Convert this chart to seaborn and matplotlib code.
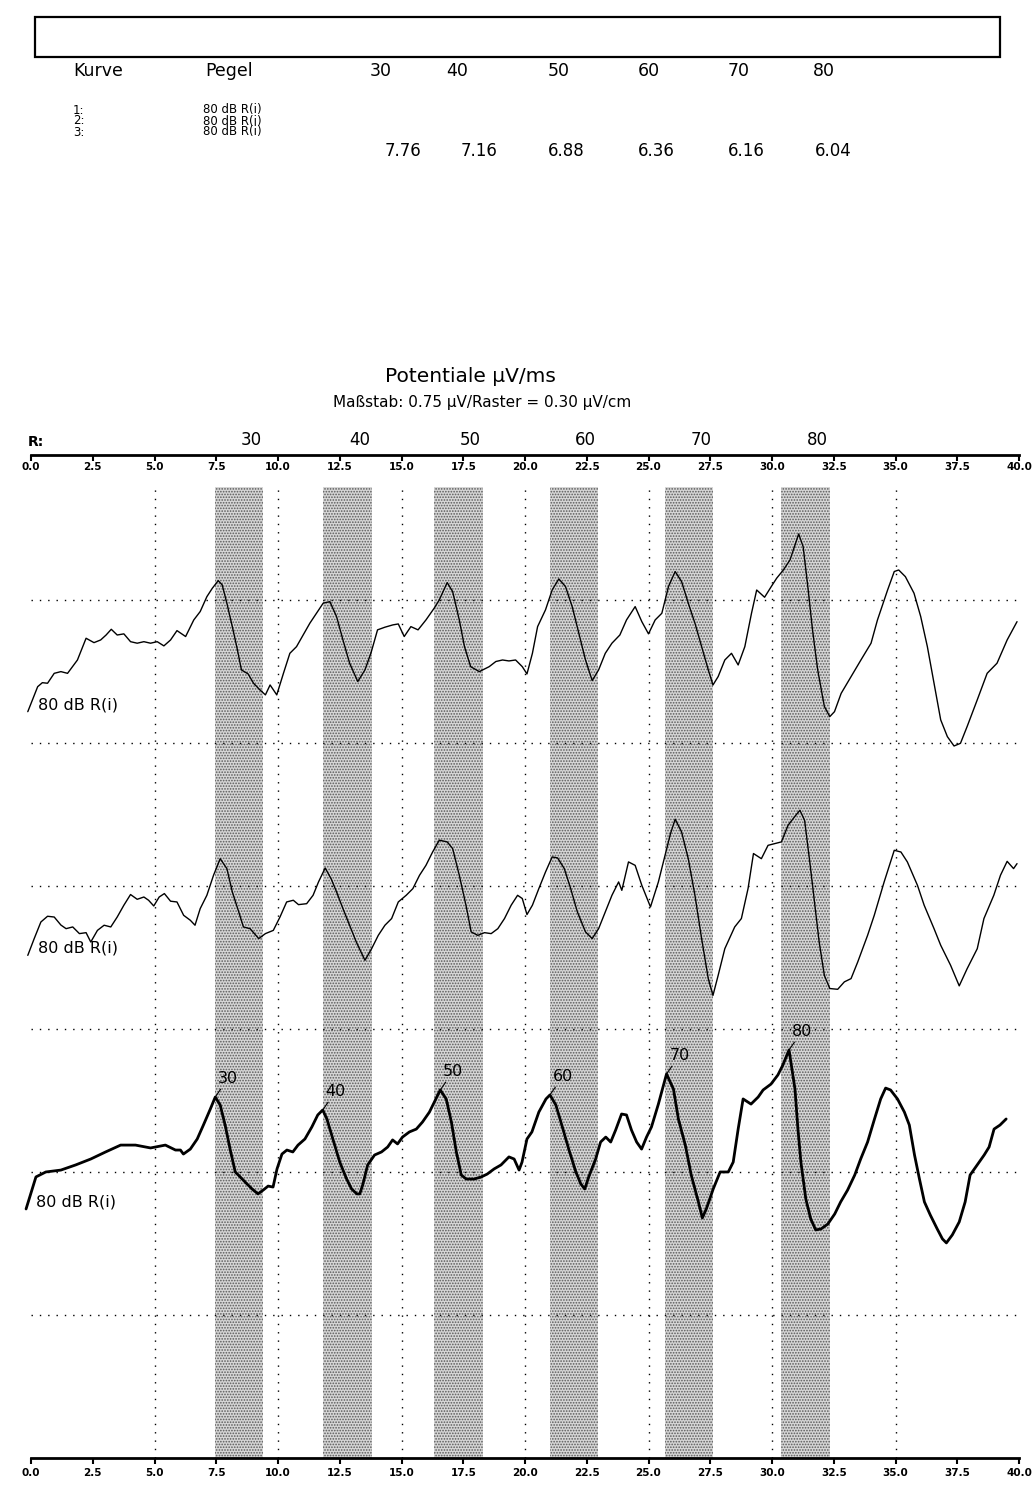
import numpy as np
import matplotlib
matplotlib.use("Agg")
import matplotlib.pyplot as plt
from matplotlib.patches import Rectangle
import seaborn as sns

sns.set_theme(style="white")
plt.rcParams['font.family'] = ['DejaVu Sans']
plt.rcParams['hatch.linewidth'] = 0.8
plt.rcParams['text.color'] = 'black'
plt.rcParams['xtick.color'] = 'black'
plt.rcParams['axes.labelcolor'] = 'black'

# ---------------- header table ----------------
table_head = ["Kurve", "Pegel", "30", "40", "50", "60", "70", "80"]
curve_ids = ["1:", "2:", "3:"]
curve_levels = ["80 dB R(i)", "80 dB R(i)", "80 dB R(i)"]
curve3_values = ["7.76", "7.16", "6.88", "6.36", "6.16", "6.04"]

# ---------------- analysis windows (ms) ----------------
window_names = ["30", "40", "50", "60", "70", "80"]
window_start = [7.45, 11.83, 16.32, 21.00, 25.67, 30.38]
window_end = [9.41, 13.79, 18.28, 22.96, 27.63, 32.34]

# ---------------- axis ticks ----------------
x_ticks = [0.0, 2.5, 5.0, 7.5, 10.0, 12.5, 15.0, 17.5, 20.0, 22.5, 25.0,
           27.5, 30.0, 32.5, 35.0, 37.5, 40.0]
x_grid = [5, 10, 15, 20, 25, 30, 35]
raster_uv = [0.75, 1.50, 2.25, 3.00, 3.75, 4.50]   # 0.75 µV per raster

# ---------------- traces (ms, µV relative to own raster line) ----------------
t1_ms = [-0.13, 0.27, 0.46, 0.67, 0.94, 1.21, 1.48, 1.88, 2.23, 2.55,
         2.82, 3.04, 3.25, 3.49, 3.76, 4.03, 4.30, 4.57, 4.84, 5.11,
         5.38, 5.65, 5.91, 6.26, 6.59, 6.85, 7.12, 7.34, 7.58, 7.74,
         7.93, 8.15, 8.33, 8.52, 8.79, 9.01, 9.27, 9.49, 9.68, 9.95,
         10.22, 10.48, 10.75, 11.02, 11.29, 11.56, 11.83, 12.10, 12.37, 12.63,
         12.90, 13.23, 13.52, 13.76, 14.03, 14.33, 14.65, 14.87, 15.11, 15.38,
         15.67, 15.99, 16.32, 16.53, 16.85, 17.07, 17.34, 17.55, 17.80, 18.15,
         18.55, 18.82, 19.09, 19.35, 19.62, 19.89, 20.08, 20.30, 20.51, 20.83,
         21.10, 21.37, 21.64, 21.91, 22.18, 22.45, 22.72, 22.98, 23.25, 23.52,
         23.84, 24.11, 24.46, 24.73, 25.00, 25.27, 25.54, 25.81, 26.08, 26.34,
         26.61, 26.88, 27.15, 27.42, 27.61, 27.82, 28.09, 28.36, 28.63, 28.90,
         29.17, 29.38, 29.70, 29.97, 30.19, 30.46, 30.73, 30.91, 31.08, 31.26,
         31.45, 31.64, 31.85, 32.12, 32.34, 32.53, 32.80, 33.20, 33.60, 34.01,
         34.27, 34.68, 34.95, 35.13, 35.40, 35.75, 36.02, 36.29, 36.56, 36.83,
         37.10, 37.37, 37.63, 37.90, 38.31, 38.71, 39.11, 39.52, 39.92]
t1_uv = [0.164, 0.295, 0.316, 0.313, 0.365, 0.374, 0.365, 0.435, 0.549, 0.526,
         0.540, 0.566, 0.596, 0.566, 0.572, 0.531, 0.523, 0.531, 0.523, 0.531,
         0.509, 0.540, 0.589, 0.558, 0.645, 0.689, 0.767, 0.811, 0.851, 0.829,
         0.733, 0.610, 0.505, 0.383, 0.362, 0.313, 0.278, 0.252, 0.304, 0.252,
         0.365, 0.470, 0.505, 0.566, 0.628, 0.680, 0.733, 0.741, 0.663, 0.540,
         0.418, 0.322, 0.383, 0.470, 0.593, 0.607, 0.619, 0.624, 0.558, 0.610,
         0.593, 0.645, 0.706, 0.750, 0.841, 0.794, 0.645, 0.505, 0.400, 0.374,
         0.400, 0.427, 0.435, 0.430, 0.435, 0.400, 0.362, 0.470, 0.610, 0.698,
         0.802, 0.860, 0.820, 0.715, 0.575, 0.435, 0.327, 0.383, 0.470, 0.523,
         0.566, 0.645, 0.715, 0.636, 0.572, 0.645, 0.680, 0.820, 0.899, 0.846,
         0.733, 0.628, 0.505, 0.383, 0.304, 0.348, 0.435, 0.470, 0.409, 0.505,
         0.680, 0.802, 0.764, 0.820, 0.864, 0.907, 0.960, 1.030, 1.096, 1.030,
         0.820, 0.593, 0.383, 0.191, 0.138, 0.164, 0.260, 0.348, 0.435, 0.523,
         0.645, 0.802, 0.899, 0.907, 0.872, 0.785, 0.663, 0.505, 0.313, 0.121,
         0.033, -0.016, -0.002, 0.086, 0.226, 0.365, 0.418, 0.540, 0.636]

t2_ms = [-0.13, 0.13, 0.40, 0.67, 0.94, 1.21, 1.42, 1.69, 1.96, 2.23,
         2.42, 2.69, 2.96, 3.23, 3.49, 3.76, 4.03, 4.30, 4.57, 4.76,
         4.97, 5.19, 5.40, 5.65, 5.91, 6.18, 6.45, 6.64, 6.85, 7.12,
         7.39, 7.66, 7.93, 8.15, 8.41, 8.60, 8.87, 9.22, 9.49, 9.81,
         10.08, 10.35, 10.62, 10.83, 11.16, 11.42, 11.64, 11.91, 12.15, 12.37,
         12.63, 12.90, 13.17, 13.52, 13.79, 14.06, 14.33, 14.60, 14.87, 15.19,
         15.46, 15.73, 15.99, 16.26, 16.53, 16.85, 17.07, 17.34, 17.61, 17.82,
         18.09, 18.36, 18.63, 18.90, 19.17, 19.44, 19.70, 19.89, 20.08, 20.30,
         20.56, 20.83, 21.10, 21.32, 21.59, 21.85, 22.12, 22.45, 22.72, 22.98,
         23.25, 23.52, 23.79, 23.92, 24.19, 24.46, 24.73, 25.08, 25.40, 25.67,
         25.89, 26.08, 26.34, 26.61, 26.88, 27.15, 27.42, 27.61, 27.82, 28.09,
         28.49, 28.76, 29.03, 29.25, 29.57, 29.84, 30.11, 30.38, 30.65, 30.91,
         31.13, 31.32, 31.53, 31.72, 31.91, 32.12, 32.34, 32.66, 32.93, 33.20,
         33.47, 33.87, 34.14, 34.54, 34.95, 35.22, 35.48, 35.89, 36.16, 36.56,
         36.83, 37.23, 37.58, 37.90, 38.31, 38.58, 38.98, 39.25, 39.52, 39.78,
         39.92]
t2_uv = [0.386, 0.474, 0.561, 0.591, 0.587, 0.545, 0.526, 0.535, 0.500, 0.505,
         0.456, 0.517, 0.544, 0.535, 0.587, 0.649, 0.705, 0.680, 0.692, 0.675,
         0.645, 0.692, 0.710, 0.670, 0.666, 0.596, 0.570, 0.544, 0.631, 0.701,
         0.806, 0.893, 0.841, 0.719, 0.614, 0.535, 0.526, 0.474, 0.500, 0.517,
         0.587, 0.666, 0.675, 0.652, 0.657, 0.701, 0.771, 0.844, 0.788, 0.719,
         0.631, 0.544, 0.456, 0.360, 0.421, 0.491, 0.544, 0.579, 0.666, 0.701,
         0.736, 0.806, 0.858, 0.928, 0.990, 0.981, 0.946, 0.806, 0.649, 0.509,
         0.491, 0.505, 0.500, 0.526, 0.579, 0.649, 0.701, 0.684, 0.600, 0.649,
         0.736, 0.823, 0.902, 0.897, 0.841, 0.736, 0.614, 0.509, 0.474, 0.526,
         0.614, 0.701, 0.771, 0.727, 0.876, 0.858, 0.753, 0.640, 0.771, 0.911,
         1.024, 1.100, 1.033, 0.893, 0.701, 0.474, 0.264, 0.176, 0.281, 0.421,
         0.535, 0.579, 0.736, 0.920, 0.893, 0.963, 0.972, 0.981, 1.068, 1.112,
         1.147, 1.094, 0.876, 0.666, 0.456, 0.281, 0.212, 0.208, 0.247, 0.264,
         0.351, 0.491, 0.596, 0.771, 0.937, 0.928, 0.876, 0.753, 0.649, 0.526,
         0.439, 0.334, 0.226, 0.316, 0.421, 0.579, 0.701, 0.806, 0.879, 0.841,
         0.867]

t3_ms = [-0.20, 0.20, 0.60, 1.21, 1.81, 2.42, 3.02, 3.63, 4.23, 4.84, 5.44, 5.85,
         6.05, 6.17, 6.45, 6.73, 6.98, 7.26, 7.46, 7.66, 7.86, 8.06,
         8.27, 8.47, 8.67, 8.95, 9.19, 9.40, 9.60, 9.80, 9.96, 10.16,
         10.36, 10.60, 10.81, 11.09, 11.37, 11.61, 11.81, 11.98, 12.22, 12.50,
         12.78, 12.98, 13.19, 13.31, 13.43, 13.63, 13.91, 14.19, 14.44, 14.64,
         14.84, 15.04, 15.32, 15.60, 15.85, 16.13, 16.37, 16.57, 16.81, 17.02,
         17.22, 17.42, 17.62, 17.94, 18.23, 18.47, 18.75, 19.03, 19.35, 19.56,
         19.76, 19.88, 20.08, 20.28, 20.56, 20.85, 21.01, 21.25, 21.49, 21.77,
         22.06, 22.26, 22.42, 22.58, 22.86, 23.06, 23.27, 23.47, 23.67, 23.91,
         24.11, 24.31, 24.52, 24.72, 24.92, 25.12, 25.40, 25.73, 26.01, 26.21,
         26.49, 26.73, 27.02, 27.18, 27.34, 27.62, 27.90, 28.23, 28.43, 28.63,
         28.83, 29.15, 29.44, 29.64, 29.96, 30.24, 30.44, 30.69, 30.93, 31.05,
         31.17, 31.37, 31.57, 31.77, 31.98, 32.26, 32.54, 32.78, 33.06, 33.35,
         33.59, 33.87, 34.15, 34.40, 34.60, 34.80, 35.08, 35.36, 35.56, 35.77,
         35.97, 36.17, 36.41, 36.69, 36.90, 37.06, 37.30, 37.58, 37.82, 38.02,
         38.31, 38.59, 38.79, 38.99, 39.23, 39.48]
t3_uv = [0.556, 0.724, 0.750, 0.760, 0.787, 0.818, 0.855, 0.891, 0.891, 0.876, 0.891, 0.865,
         0.865, 0.844, 0.870, 0.923, 0.996, 1.080, 1.143, 1.101, 0.996, 0.870,
         0.750, 0.724, 0.697, 0.661, 0.635, 0.655, 0.676, 0.671, 0.766, 0.844,
         0.865, 0.855, 0.891, 0.923, 0.986, 1.049, 1.075, 1.028, 0.923, 0.802,
         0.713, 0.661, 0.635, 0.635, 0.682, 0.787, 0.839, 0.855, 0.881, 0.918,
         0.897, 0.933, 0.960, 0.975, 1.012, 1.064, 1.127, 1.180, 1.133, 1.012,
         0.855, 0.734, 0.713, 0.713, 0.724, 0.739, 0.766, 0.787, 0.829, 0.818,
         0.760, 0.802, 0.923, 0.960, 1.064, 1.133, 1.154, 1.101, 0.996, 0.870,
         0.750, 0.687, 0.661, 0.724, 0.818, 0.907, 0.933, 0.907, 0.970, 1.054,
         1.049, 0.970, 0.907, 0.870, 0.933, 0.986, 1.106, 1.264, 1.185, 1.028,
         0.891, 0.734, 0.593, 0.509, 0.556, 0.661, 0.750, 0.750, 0.802, 0.975,
         1.133, 1.106, 1.143, 1.180, 1.211, 1.259, 1.311, 1.390, 1.185, 0.975,
         0.802, 0.608, 0.503, 0.446, 0.451, 0.477, 0.530, 0.593, 0.655, 0.734,
         0.818, 0.907, 1.028, 1.133, 1.190, 1.180, 1.133, 1.064, 0.996, 0.839,
         0.713, 0.593, 0.524, 0.451, 0.399, 0.378, 0.420, 0.488, 0.593, 0.734,
         0.787, 0.839, 0.881, 0.975, 0.996, 1.028]

# peak latencies marked on curve 3 (ms)
peak_names = ["30", "40", "50", "60", "70", "80"]
peak_ms = [7.46, 11.81, 16.57, 21.01, 25.73, 30.69]

traces = [
    dict(ms=t1_ms, uv=t1_uv, base=3.75, lw=1.0),
    dict(ms=t2_ms, uv=t2_uv, base=2.25, lw=1.0),
    dict(ms=t3_ms, uv=t3_uv, base=0.75, lw=2.0),
]
trace_label = "80 dB R(i)"

# ---------------- figure ----------------
W, H = 1034, 1486
fig = plt.figure(figsize=(W / 100, H / 100), dpi=100)
fig.patch.set_facecolor("white")


def fx(px):
    return px / W


def fy(py):
    return 1 - py / H


# header frame
fig.add_artist(Rectangle((fx(35), fy(57)), fx(1000) - fx(35), (57 - 17) / H,
                         transform=fig.transFigure, fill=False, lw=1.6,
                         edgecolor="black"))

head_x = [73, 205, 370, 446, 548, 638, 728, 813]
for txt, px in zip(table_head, head_x):
    fig.text(fx(px), fy(71), txt, fontsize=12.5, ha="left", va="center")

row_y = [110, 121, 132]
for cid, lvl, py in zip(curve_ids, curve_levels, row_y):
    fig.text(fx(73), fy(py), cid, fontsize=8.5, ha="left", va="center")
    fig.text(fx(203), fy(py), lvl, fontsize=8.5, ha="left", va="center")

val_x = [385, 461, 548, 638, 728, 815]
for v, px in zip(curve3_values, val_x):
    fig.text(fx(px), fy(151), v, fontsize=12, ha="left", va="center")

fig.text(fx(470), fy(376), "Potentiale µV/ms", fontsize=14.5,
         ha="center", va="center")
fig.text(fx(482), fy(402), "Maßstab: 0.75 µV/Raster = 0.30 µV/cm",
         fontsize=11, ha="center", va="center")

# ---------------- main axes ----------------
px0, pxms = 31, 24.7          # pixel of 0 ms, pixels per ms
y_top = 5.26                  # µV at the upper scale line
band_top = 5.09
ax = fig.add_axes([0, fy(1458), 1, (1458 - 455) / H])
ax.set_xlim(-px0 / pxms, (W - px0) / pxms)
ax.set_ylim(0, y_top)
ax.set_facecolor("white")

for s in ["left", "right", "top"]:
    ax.spines[s].set_visible(False)
ax.spines["bottom"].set_bounds(0, 40)
ax.spines["bottom"].set_linewidth(2.0)
ax.spines["bottom"].set_color("black")
ax.set_yticks([])
ax.set_xticks(x_ticks)
ax.set_xticklabels([f"{t:.1f}" for t in x_ticks], fontsize=7.5,
                   fontweight="bold")
ax.tick_params(axis="x", direction="out", length=4, width=1.5, pad=3,
               colors="black", bottom=True)

# upper scale with labels below the line
axt = ax.twiny()
axt.set_xlim(ax.get_xlim())
for s in ["left", "right", "bottom"]:
    axt.spines[s].set_visible(False)
axt.spines["top"].set_bounds(0, 40)
axt.spines["top"].set_linewidth(2.0)
axt.spines["top"].set_color("black")
axt.set_xticks(x_ticks)
axt.set_xticklabels([f"{t:.1f}" for t in x_ticks], fontsize=7.5,
                    fontweight="bold")
axt.tick_params(axis="x", direction="in", length=4, width=1.5, pad=-12.5,
                colors="black", top=True)
axt.grid(False)
ax.grid(False)

# window bands
for s, e in zip(window_start, window_end):
    ax.fill_between([s, e], 0, band_top, facecolor="#d6d6d6",
                    edgecolor="#5a5a5a", hatch="......", linewidth=0, zorder=0)

# window names above the upper scale
for name, s, e in zip(window_names, window_start, window_end):
    ax.annotate(name, xy=((s + e) / 2, 1), xycoords=("data", "axes fraction"),
                xytext=(1, 4), textcoords="offset points", fontsize=12,
                ha="left", va="bottom", annotation_clip=False)
fig.text(fx(28), fy(442), "R:", fontsize=10, fontweight="bold",
         ha="left", va="center")

# dotted raster
ax.vlines(x_grid, 0, band_top, colors="black", linewidth=1.0,
          linestyles=(0, (1, 5)), zorder=1)
ax.hlines(raster_uv, 0, 40, colors="black", linewidth=1.0,
          linestyles=(0, (1, 5)), zorder=1)

# curves
for tr in traces:
    y = np.asarray(tr["uv"]) + tr["base"]
    sns.lineplot(x=tr["ms"], y=y, ax=ax, color="black", linewidth=tr["lw"],
                 estimator=None, sort=False, zorder=3)
    ax.annotate(trace_label, xy=(tr["ms"][0], y[0]), xytext=(7, 5),
                textcoords="offset points", fontsize=11.5, ha="left",
                va="center", zorder=4)

# peak marks on curve 3
t3_y = np.asarray(t3_uv) + traces[2]["base"]
for name, pm in zip(peak_names, peak_ms):
    py = np.interp(pm, t3_ms, t3_y)
    ax.annotate(name, xy=(pm, py), xytext=(2, 8), textcoords="offset points",
                fontsize=11.5, ha="left", va="bottom", zorder=4,
                arrowprops=dict(arrowstyle="-", lw=0.8, color="black",
                                shrinkA=0, shrinkB=0))

fig.savefig("out.png", dpi=100, facecolor="white")
